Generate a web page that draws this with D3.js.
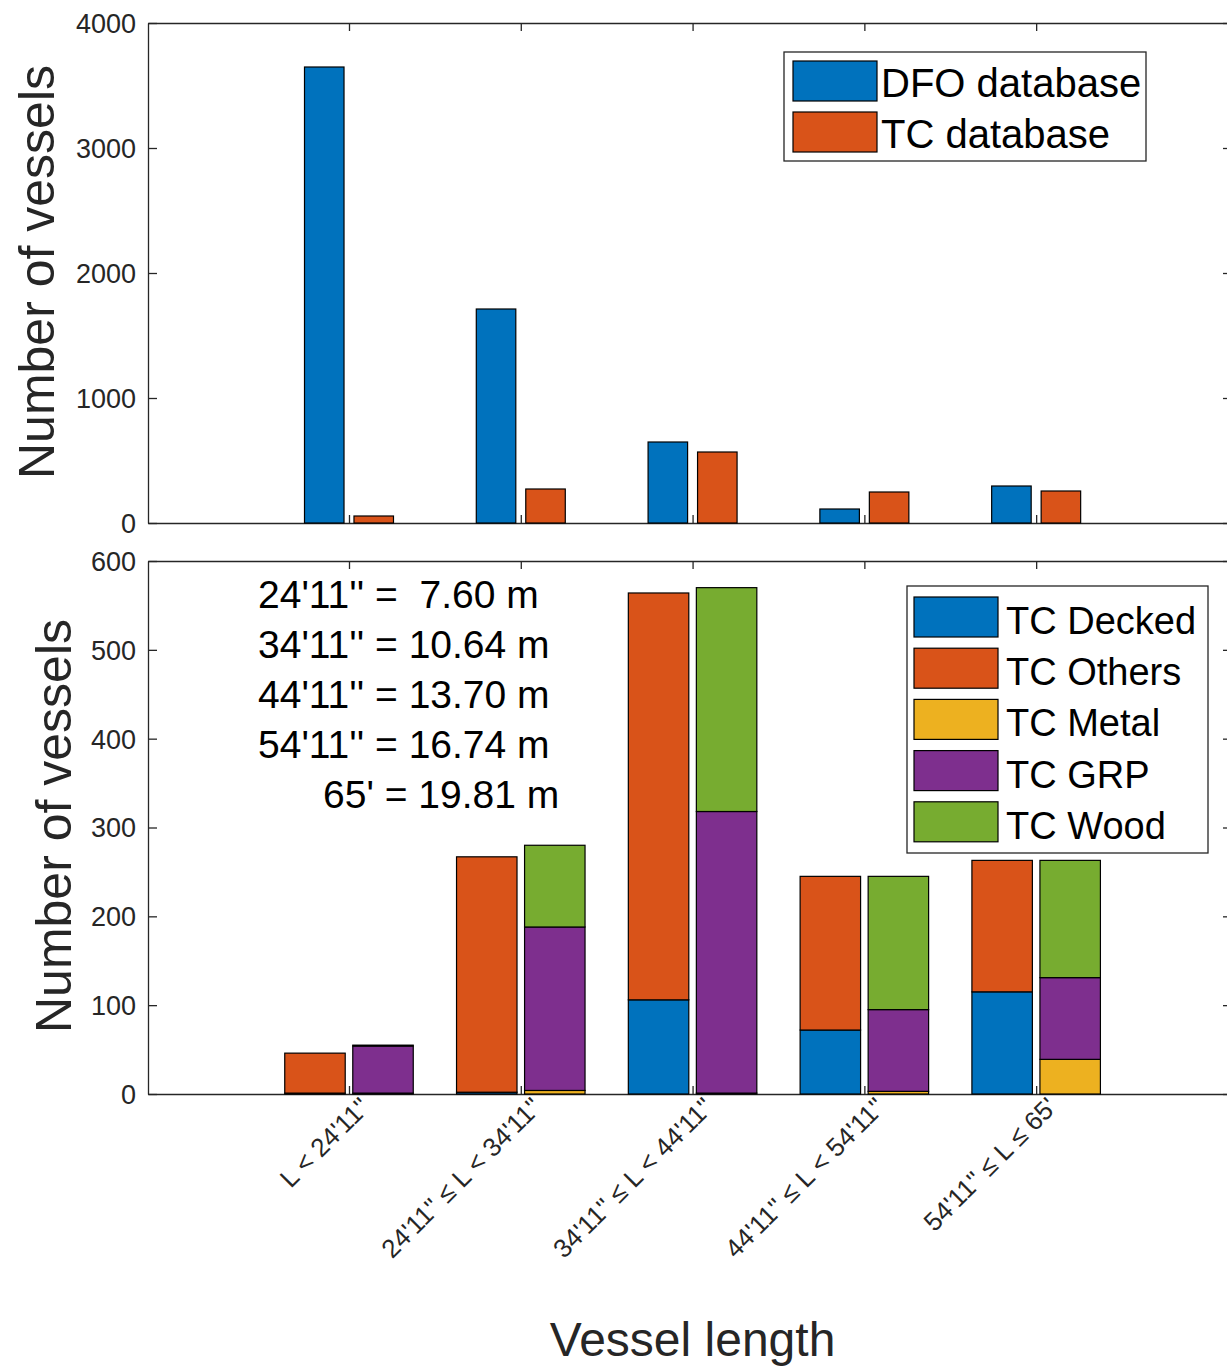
<!DOCTYPE html>
<html>
<head>
<meta charset="utf-8">
<script src="https://cdn.jsdelivr.net/npm/d3@7"></script>
<style>
  body { margin: 0; background: #fff; }
  text { font-family: "Liberation Sans", Arial, Helvetica, sans-serif; }
  .axis path, .axis line { stroke: #262626; stroke-width: 1.3; }
  .axis text { fill: #262626; font-size: 27px; }
</style>
</head>
<body>
<div id="chart"></div>
<script>
// categories (vessel length classes)
var categories = ["L < 24'11''", "24'11'' \u2264 L < 34'11''", "34'11'' \u2264 L < 44'11''", "44'11'' \u2264 L < 54'11''", "54'11'' \u2264 L \u2264 65'"];

// top panel
var dfoCounts = [3648, 1712, 648, 112, 296];
var tcCounts = [56, 272, 568, 248, 256];

// bottom panel, left stack
var tcDecked = [1, 2, 106, 72, 115];
var tcOthers = [45, 265, 458, 173, 148];
// bottom panel, right stack
var tcMetal = [1, 4, 1, 3, 39];
var tcGRP = [53, 184, 317, 92, 92];
var tcWood = [1, 92, 252, 150, 132];

var topTicks = [0, 1000, 2000, 3000, 4000];
var bottomTicks = [0, 100, 200, 300, 400, 500, 600];

var conversions = [["24'11'' =  7.60 m", 0], ["34'11'' = 10.64 m", 0], ["44'11'' = 13.70 m", 0], ["54'11'' = 16.74 m", 0], ["65' = 19.81 m", 1]];

var colors = {
  blue: "#0072BD", orange: "#D95319", yellow: "#EDB120", purple: "#7E2F8E", green: "#77AC30"
};

var width = 1227, height = 1370;
var svg = d3.select("#chart").append("svg")
  .attr("width", width)
  .attr("height", height);

svg.append("rect").attr("width", width).attr("height", height).attr("fill", "#fff");

var left = 148, right = 1232;
var x = d3.scaleLinear().domain([-0.17, 6.14]).range([left, right]);
var idx = d3.range(1, categories.length + 1);

var yTop = d3.scaleLinear().domain([0, 4000]).range([523, 23]);
var yBot = d3.scaleLinear().domain([0, 600]).range([1094, 561]);

// draw frame + ticks for one panel
function drawAxes(y, ticks) {
  var y0 = y.range()[0], y1 = y.range()[1];
  var g = svg.append("g");

  g.append("g").attr("class", "axis")
    .attr("transform", "translate(" + left + ",0)")
    .call(d3.axisLeft(y).tickValues(ticks).tickSizeInner(-9).tickSizeOuter(0).tickPadding(12).tickFormat(d3.format("d")));

  g.append("g").attr("class", "axis")
    .attr("transform", "translate(" + right + ",0)")
    .call(d3.axisRight(y).tickValues(ticks).tickSizeInner(-9).tickSizeOuter(0).tickFormat(""));

  g.append("g").attr("class", "axis")
    .attr("transform", "translate(0," + y0 + ")")
    .call(d3.axisBottom(x).tickValues(idx).tickSizeInner(-8).tickSizeOuter(0).tickFormat(""));

  g.append("g").attr("class", "axis")
    .attr("transform", "translate(0," + y1 + ")")
    .call(d3.axisTop(x).tickValues(idx).tickSizeInner(-8).tickSizeOuter(0).tickFormat(""));

  g.selectAll(".axis text").attr("dy", "0.35em");
  return g;
}

// ---- top panel ----
drawAxes(yTop, topTicks);

var wTop = 0.23, offTop = 0.144;
svg.append("g").selectAll("rect.dfo")
  .data(dfoCounts)
  .enter().append("rect")
  .attr("x", (d, i) => x(i + 1 - offTop - wTop / 2))
  .attr("width", x(wTop) - x(0))
  .attr("y", d => yTop(d))
  .attr("height", d => yTop(0) - yTop(d))
  .attr("fill", colors.blue)
  .attr("stroke", "#000").attr("stroke-width", 1.2);

svg.append("g").selectAll("rect.tc")
  .data(tcCounts)
  .enter().append("rect")
  .attr("x", (d, i) => x(i + 1 + offTop - wTop / 2))
  .attr("width", x(wTop) - x(0))
  .attr("y", d => yTop(d))
  .attr("height", d => yTop(0) - yTop(d))
  .attr("fill", colors.orange)
  .attr("stroke", "#000").attr("stroke-width", 1.2);

svg.append("text")
  .attr("transform", "translate(54,272) rotate(-90)")
  .attr("text-anchor", "middle")
  .attr("fill", "#262626")
  .style("font-size", "50px")
  .text("Number of vessels");

// top legend
var legTop = svg.append("g");
legTop.append("rect").attr("x", 784).attr("y", 52).attr("width", 362).attr("height", 109)
  .attr("fill", "#fff").attr("stroke", "#262626").attr("stroke-width", 1.3);
[["DFO database", colors.blue], ["TC database", colors.orange]].forEach(function (d, i) {
  legTop.append("rect").attr("x", 793).attr("y", 61 + i * 51).attr("width", 84).attr("height", 40)
    .attr("fill", d[1]).attr("stroke", "#000").attr("stroke-width", 1.2);
  legTop.append("text").attr("x", 881).attr("y", 97 + i * 51)
    .style("font-size", "40px").attr("fill", "#000").text(d[0]);
});

// ---- bottom panel ----
drawAxes(yBot, bottomTicks);

var rows = idx.map(function (k, i) {
  return { i: i, decked: tcDecked[i], others: tcOthers[i], metal: tcMetal[i], grp: tcGRP[i], wood: tcWood[i] };
});

var wBot = 0.352, offBot = 0.198;
var stackLeft = d3.stack().keys(["decked", "others"])(rows);
var stackRight = d3.stack().keys(["metal", "grp", "wood"])(rows);
var fillOf = { decked: colors.blue, others: colors.orange, metal: colors.yellow, grp: colors.purple, wood: colors.green };

function drawStack(series, off) {
  svg.append("g").selectAll("g")
    .data(series)
    .enter().append("g")
    .attr("fill", s => fillOf[s.key])
    .selectAll("rect")
    .data(s => s)
    .enter().append("rect")
    .attr("x", d => x(d.data.i + 1 + off - wBot / 2))
    .attr("width", x(wBot) - x(0))
    .attr("y", d => yBot(d[1]))
    .attr("height", d => yBot(d[0]) - yBot(d[1]))
    .attr("stroke", "#000").attr("stroke-width", 1.2);
}
drawStack(stackLeft, -offBot);
drawStack(stackRight, offBot);

svg.append("text")
  .attr("transform", "translate(71,826) rotate(-90)")
  .attr("text-anchor", "middle")
  .attr("fill", "#262626")
  .style("font-size", "50px")
  .text("Number of vessels");

// conversion note
svg.append("g").selectAll("text")
  .data(conversions)
  .enter().append("text")
  .attr("x", d => d[1] ? 323 : 258)
  .attr("y", (d, i) => 608 + i * 50)
  .attr("xml:space", "preserve")
  .style("white-space", "pre")
  .style("font-size", "39px")
  .attr("fill", "#000")
  .text(d => d[0]);

// bottom legend
var legBot = svg.append("g");
legBot.append("rect").attr("x", 907).attr("y", 586).attr("width", 301).attr("height", 267)
  .attr("fill", "#fff").attr("stroke", "#262626").attr("stroke-width", 1.3);
[["TC Decked", colors.blue], ["TC Others", colors.orange], ["TC Metal", colors.yellow], ["TC GRP", colors.purple], ["TC Wood", colors.green]].forEach(function (d, i) {
  legBot.append("rect").attr("x", 914).attr("y", 597 + i * 51.2).attr("width", 84).attr("height", 40)
    .attr("fill", d[1]).attr("stroke", "#000").attr("stroke-width", 1.2);
  legBot.append("text").attr("x", 1006).attr("y", 634 + i * 51.2)
    .style("font-size", "38px").attr("fill", "#000").text(d[0]);
});

// rotated category labels
svg.append("g").selectAll("text")
  .data(categories)
  .enter().append("text")
  .attr("transform", (d, i) => "translate(" + (x(i + 1) + 16) + ",1102) rotate(-45)")
  .attr("text-anchor", "end")
  .attr("dy", "0.35em")
  .attr("fill", "#262626")
  .style("font-size", "26px")
  .text(d => d);

svg.append("text")
  .attr("x", x(3))
  .attr("y", 1356)
  .attr("text-anchor", "middle")
  .attr("fill", "#262626")
  .style("font-size", "48px")
  .text("Vessel length");
</script>
</body>
</html>
